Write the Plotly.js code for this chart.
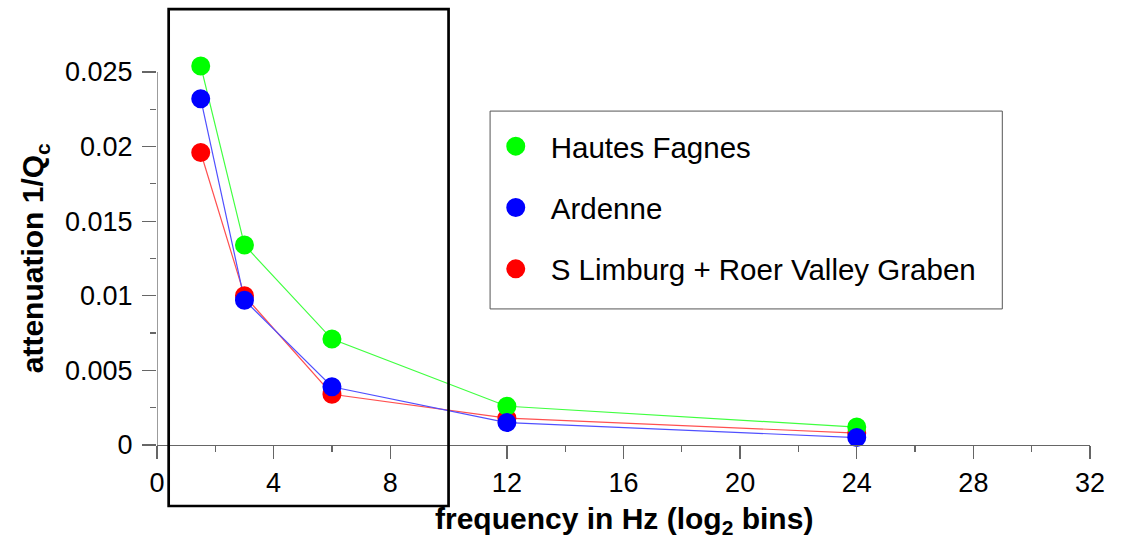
<!DOCTYPE html>
<html>
<head>
<meta charset="utf-8">
<script src="https://cdn.plot.ly/plotly-3.0.1.min.js"></script>
<style>html,body{margin:0;padding:0;background:#fff;}#chart{width:1122px;height:540px;}</style>
</head>
<body>
<div id="chart"></div>
<script>
var frequencies = [1.5, 3, 6, 12, 24];
var hautesFagnes = [0.0254, 0.0134, 0.0071, 0.0026, 0.0012];
var ardenne = [0.0232, 0.0097, 0.0039, 0.0015, 0.0005];
var sLimburg = [0.0196, 0.0100, 0.0034, 0.0018, 0.0008];
var seriesNames = ['Hautes Fagnes', 'Ardenne', 'S Limburg + Roer Valley Graben'];
var xTicks = [0, 4, 8, 12, 16, 20, 24, 28, 32];
var yTicks = [0, 0.005, 0.01, 0.015, 0.02, 0.025];
var boxX = [0.4, 10];

var FONT = 'Liberation Sans, Arial, sans-serif';

function lineTrace(y, lc) {
  return {
    type: 'scatter', mode: 'lines', showlegend: false, hoverinfo: 'skip',
    x: frequencies, y: y, cliponaxis: false,
    line: {color: lc, width: 1.2}
  };
}
function markTrace(name, y, mc, rank) {
  return {
    type: 'scatter', mode: 'markers', name: name, legendrank: rank, legendgroup: name,
    x: frequencies, y: y, cliponaxis: false,
    marker: {color: mc, size: 16, line: {width: 3, color: mc}}
  };
}

var data = [
  lineTrace(sLimburg, '#ff5050'),
  lineTrace(hautesFagnes, '#40ff40'),
  lineTrace(ardenne, '#5050ff'),
  markTrace(seriesNames[2], sLimburg, '#ff0000', 3),
  markTrace(seriesNames[0], hautesFagnes, '#00ff00', 1),
  markTrace(seriesNames[1], ardenne, '#0000ff', 2)
];

var axisCommon = {
  showgrid: false, zeroline: false,
  linecolor: '#666', linewidth: 1.3,
  ticks: 'outside', tickcolor: '#666', tickwidth: 1.3,
  tickfont: {family: FONT, size: 27, color: '#000'}
};

var layout = {
  width: 1122, height: 540,
  margin: {l: 157, r: 32, t: 54, b: 95},
  paper_bgcolor: '#fff', plot_bgcolor: '#fff',
  font: {family: FONT, color: '#000'},
  showlegend: true,
  legend: {
    x: 0.347, y: 0.830, xanchor: 'left', yanchor: 'top',
    bgcolor: 'rgba(0,0,0,0)', borderwidth: 0,
    font: {family: FONT, size: 29.5, color: '#000'},
    traceorder: 'grouped', tracegroupgap: 20, itemwidth: 60
  },
  xaxis: Object.assign({}, axisCommon, {
    showline: true,
    range: [0, 32], tickmode: 'array', tickvals: xTicks,
    ticktext: xTicks.map(String), ticklen: 13,
    minor: {dtick: 2, ticklen: 6, ticks: 'outside', tickcolor: '#666', tickwidth: 1.3}
  }),
  yaxis: Object.assign({}, axisCommon, {
    showline: false,
    range: [0, 0.0262], tickmode: 'array', tickvals: yTicks,
    ticktext: yTicks.map(String), ticklen: 14, ticklabelstandoff: 4,
    minor: {tickvals: [0.0025, 0.0075, 0.0125, 0.0175, 0.0225], ticklen: 6, ticks: 'outside', tickcolor: '#666', tickwidth: 1.3}
  }),
  shapes: [
    {type: 'line', xref: 'x', yref: 'y', x0: 0, x1: 0, y0: 0, y1: yTicks[yTicks.length - 1],
     line: {color: '#666', width: 1.3}},
    {type: 'rect', xref: 'x', yref: 'paper', x0: boxX[0], x1: boxX[1], y0: -0.156, y1: 1.115,
     line: {color: '#000', width: 2.7}, fillcolor: 'rgba(0,0,0,0)'},
    {type: 'rect', xref: 'paper', yref: 'paper', x0: 0.357, x1: 0.906, y0: 0.348, y1: 0.854,
     line: {color: '#555', width: 1}, fillcolor: 'rgba(0,0,0,0)'}
  ],
  annotations: [
    {xref: 'paper', yref: 'paper', x: 0.5, y: -0.194, xanchor: 'center', yanchor: 'middle',
     showarrow: false, text: '<b>frequency in Hz (log<sub>2</sub> bins)</b>',
     font: {family: FONT, size: 30, color: '#000'}},
    {xref: 'paper', yref: 'paper', x: -0.131, y: 0.477, xanchor: 'center', yanchor: 'middle',
     textangle: -90, showarrow: false, text: '<b>attenuation 1/Q<sub>c</sub></b>',
     font: {family: FONT, size: 30, color: '#000'}}
  ]
};

Plotly.newPlot('chart', data, layout, {staticPlot: true, displayModeBar: false});
</script>
</body>
</html>
